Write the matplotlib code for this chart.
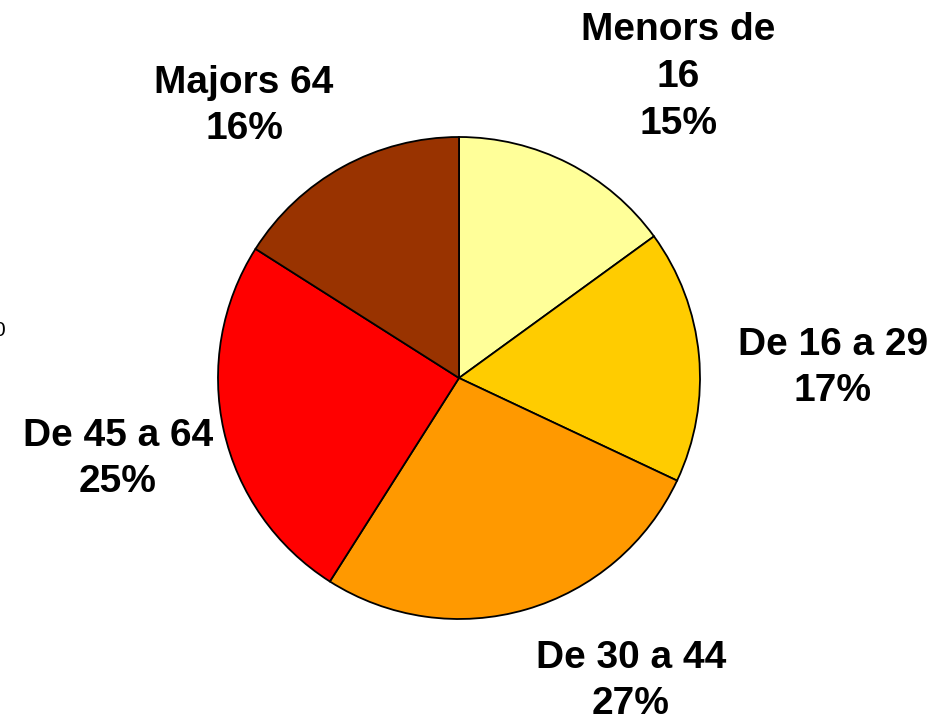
import matplotlib
matplotlib.use("Agg")
import matplotlib.pyplot as plt

# age groups, clockwise from the top
groups = ["Menors de\n16", "De 16 a 29", "De 30 a 44", "De 45 a 64", "Majors 64"]
shares = [15, 17, 27, 25, 16]
colors = ["#FFFF99", "#FFCC00", "#FF9900", "#FF0000", "#993300"]

# label centres in pixel space (y measured from the bottom)
label_xy = [(678, 646), (833, 355), (631, 42), (118, 264), (244, 617)]

W, H = 945, 723
fig = plt.figure(figsize=(W / 100, H / 100), dpi=100)
ax = fig.add_axes([0, 0, 1, 1])

ax.pie(shares, colors=colors, startangle=90, counterclock=False,
       center=(459, 345), radius=241,
       wedgeprops=dict(edgecolor="black", linewidth=1.3))

for name, pct, (x, y) in zip(groups, shares, label_xy):
    ax.text(x, y, f"{name}\n{pct}%", ha="center", va="center",
            fontsize=28, fontweight="bold", family="Liberation Sans",
            linespacing=1.38)

# stray tick label clipped at the left edge
ax.text(-7, 392, "0", ha="left", va="center", fontsize=15,
        family="Liberation Sans")

ax.set_xlim(0, W)
ax.set_ylim(0, H)
ax.set_aspect("equal")
ax.axis("off")

fig.savefig("out.png", dpi=100)
